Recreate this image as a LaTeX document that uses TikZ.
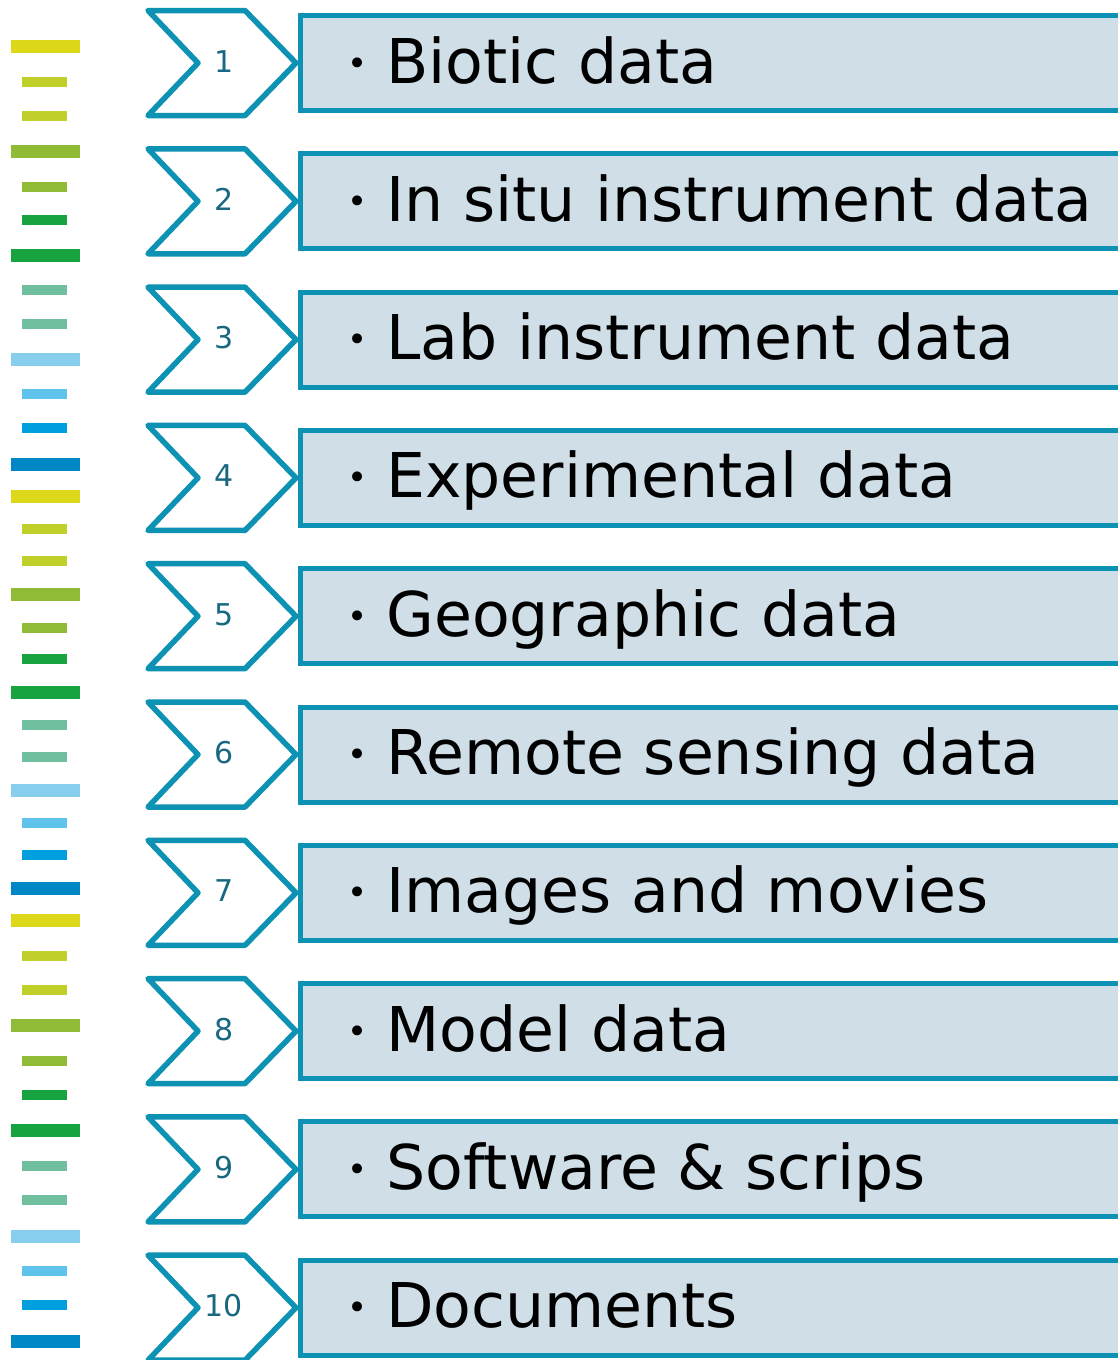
\documentclass[tikz,border=0pt]{standalone}
\usepackage{fontspec}
\setmainfont{DejaVu Sans}
\definecolor{edge}{RGB}{14,146,180}
\definecolor{boxfill}{RGB}{208,223,231}
\definecolor{numcol}{RGB}{24,104,130}
\definecolor{cY}{RGB}{221,217,26}
\definecolor{cYG}{RGB}{192,207,42}
\definecolor{cLime}{RGB}{143,187,55}
\definecolor{cGreen}{RGB}{23,163,64}
\definecolor{cTeal}{RGB}{112,192,160}
\definecolor{cLB}{RGB}{135,207,236}
\definecolor{cSky}{RGB}{94,196,236}
\definecolor{cBlue}{RGB}{0,160,224}
\definecolor{cDB}{RGB}{0,136,198}
\newcommand{\itembullet}{{\fontsize{34}{34}\selectfont\raisebox{8pt}{•}}\hspace{19pt}}
\tikzset{
  chevron/.style={draw=edge, line width=5.5pt, line join=round, fill=white},
  itembox/.style={draw=edge, line width=5pt, fill=boxfill},
  numlabel/.style={font=\fontsize{30}{34}\selectfont, text=numcol, inner sep=0pt, anchor=base},
  itemlabel/.style={font=\fontsize{61.7}{70}\selectfont, text=black, inner sep=0pt, anchor=base west}
}
\begin{document}
\begin{tikzpicture}[x=1pt,y=-1pt]
\clip (0,0) rectangle (1118,1360);
\fill[white] (0,0) rectangle (1118,1360);
% left bars
\foreach \yc/\col/\kind in {
 46/cY/L, 82/cYG/S, 116/cYG/S, 151/cLime/L, 187/cLime/S, 220/cGreen/S, 255/cGreen/L,
 290/cTeal/S, 324/cTeal/S, 359/cLB/L, 394/cSky/S, 428/cBlue/S, 464/cDB/L,
 496/cY/L, 529/cYG/S, 561/cYG/S, 594/cLime/L, 628/cLime/S, 659/cGreen/S, 692/cGreen/L,
 725/cTeal/S, 757/cTeal/S, 790/cLB/L, 823/cSky/S, 855/cBlue/S, 888/cDB/L,
 920/cY/L, 956/cYG/S, 990/cYG/S, 1025/cLime/L, 1061/cLime/S, 1095/cGreen/S, 1130/cGreen/L,
 1166/cTeal/S, 1200/cTeal/S, 1236/cLB/L, 1271/cSky/S, 1305/cBlue/S, 1341/cDB/L}{
  \if L\kind
    \fill[\col] (11,\yc-6.5) rectangle (80,\yc+6.5);
  \else
    \fill[\col] (22,\yc-5) rectangle (67,\yc+5);
  \fi
}
% rows
\foreach \i/\txt in {1/Biotic data, 2/In situ instrument data, 3/Lab instrument data,
  4/Experimental data, 5/Geographic data, 6/Remote sensing data, 7/Images and movies,
  8/Model data, 9/Software \& scrips, 10/Documents}{
  \pgfmathsetmacro{\yc}{63+138.3*(\i-1)}
  \draw[itembox] (300,\yc-47.5) rectangle (1135,\yc+47.5);
  \draw[chevron] (148,\yc-52.5) -- (245,\yc-52.5) -- (296,\yc) -- (245,\yc+52.5)
     -- (148,\yc+52.5) -- (198,\yc) -- cycle;
  \node[numlabel] (num\i) at (224,\yc+9) {\i};
  \node[itemlabel] (item\i) at (347,\yc+20) {\itembullet\txt};
}
\end{tikzpicture}
\end{document}
